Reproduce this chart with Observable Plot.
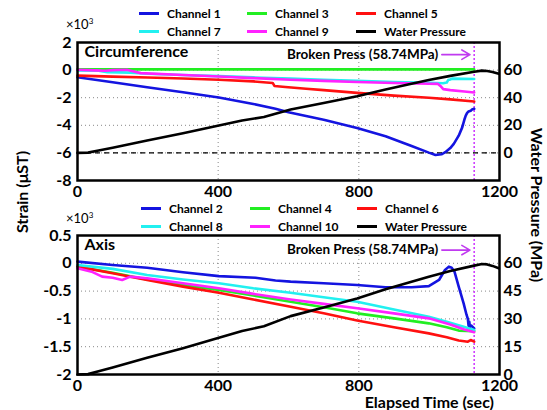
<!DOCTYPE html>
<html><head><meta charset="utf-8">
<script src="https://cdn.jsdelivr.net/npm/d3@7"></script>
<script src="https://cdn.jsdelivr.net/npm/@observablehq/plot@0.6"></script>
<style>
body{margin:0;background:#fff;font-family:Lato,"Open Sans",sans-serif;font-weight:bold;}
#wrap{position:relative;width:547px;height:410px;overflow:hidden;}
#wrap svg.p{position:absolute;left:0;}
.lab{position:absolute;white-space:nowrap;color:#000;line-height:1;}
.leg{position:absolute;font-size:12px;white-space:nowrap;display:flex;align-items:center;}
.leg span.sw{display:inline-block;width:20px;height:3px;margin-right:8px;}
</style></head>
<body><div id="wrap"></div>
<script>
// ---------- data ----------
const breakTime = 1128;            // sec, burst moment
const breakPressure = 58.74;       // MPa
const xTicks = [0, 400, 800, 1200];

// Water pressure (MPa) vs time (sec)
const waterPressure = [[0,0],[30,0.2],[60,1.7],[100,3.8],[198,9],[300,14.2],[402,19.8],[468,23.5],[530,26],[606,31.5],[700,36.2],[795,41],[876,46],[940,49.5],[999,52.8],[1060,55.8],[1128,58.74],[1150,59.6],[1165,59.4],[1180,58.6],[1198,57.3]];

// Circumference strains (x10^3 microstrain)
const ch1 = [[0,-0.52],[100,-0.88],[198,-1.24],[300,-1.6],[402,-1.98],[500,-2.45],[563,-2.8],[600,-3.05],[700,-3.6],[795,-4.2],[876,-4.8],[950,-5.5],[999,-5.98],[1018,-6.15],[1035,-6.1],[1046,-5.95],[1060,-5.65],[1070,-5.35],[1084,-4.75],[1094,-4.15],[1100,-3.6],[1104,-3.3],[1108,-3.1],[1112,-3.0],[1118,-2.95],[1122,-2.85],[1128,-2.8]];
const ch3 = [[0,0.05],[400,0.05],[800,0.05],[1128,0.05]];
const ch5 = [[0,-0.4],[100,-0.47],[200,-0.54],[300,-0.61],[402,-0.7],[500,-0.82],[555,-0.93],[560,-1.15],[591,-1.22],[650,-1.35],[700,-1.45],[795,-1.65],[900,-1.85],[999,-2.0],[1060,-2.12],[1128,-2.28]];
const ch7 = [[0,-0.02],[60,-0.05],[85,-0.15],[150,-0.18],[200,-0.26],[300,-0.35],[402,-0.44],[500,-0.53],[606,-0.62],[700,-0.7],[795,-0.78],[900,-0.86],[999,-0.92],[1040,-0.95],[1050,-0.9],[1054,-0.72],[1060,-0.68],[1065,-0.62],[1128,-0.64]];
const ch9 = [[0,0.02],[50,-0.02],[80,-0.05],[100,0.0],[140,0.02],[160,-0.1],[180,-0.22],[300,-0.35],[402,-0.46],[500,-0.58],[606,-0.7],[700,-0.78],[795,-0.86],[900,-0.93],[999,-0.99],[1025,-1.0],[1032,-1.15],[1040,-1.38],[1060,-1.45],[1100,-1.55],[1128,-1.62]];

// Axis strains (x10^3 microstrain)
const ch2 = [[0,0.03],[100,-0.03],[198,-0.08],[300,-0.16],[402,-0.23],[506,-0.26],[563,-0.31],[606,-0.33],[700,-0.36],[795,-0.39],[876,-0.43],[950,-0.43],[999,-0.41],[1028,-0.3],[1045,-0.12],[1056,-0.06],[1064,-0.08],[1072,-0.15],[1084,-0.42],[1098,-0.72],[1106,-0.92],[1110,-1.0],[1112,-1.12],[1114,-1.05],[1116,-1.15],[1120,-1.12],[1128,-1.17]];
const ch4 = [[0,-0.06],[100,-0.17],[198,-0.29],[300,-0.39],[402,-0.48],[500,-0.58],[606,-0.69],[700,-0.79],[795,-0.9],[900,-0.99],[999,-1.08],[1050,-1.15],[1084,-1.21],[1128,-1.22]];
const ch6 = [[0,-0.06],[100,-0.18],[198,-0.3],[300,-0.42],[402,-0.53],[500,-0.65],[606,-0.78],[700,-0.9],[795,-1.03],[900,-1.15],[999,-1.26],[1050,-1.33],[1084,-1.39],[1110,-1.41],[1118,-1.38],[1128,-1.41]];
const ch8 = [[0,-0.03],[100,-0.1],[198,-0.21],[300,-0.29],[402,-0.36],[500,-0.45],[606,-0.53],[700,-0.61],[795,-0.69],[900,-0.83],[999,-0.96],[1050,-1.05],[1103,-1.15],[1128,-1.2]];
const ch10 = [[0,-0.09],[40,-0.15],[70,-0.24],[100,-0.26],[127,-0.3],[150,-0.24],[198,-0.27],[300,-0.36],[402,-0.45],[500,-0.55],[606,-0.65],[700,-0.73],[795,-0.81],[900,-0.9],[999,-0.99],[1060,-1.1],[1100,-1.19],[1128,-1.24]];

const topStrainTicks = [2, 0, -2, -4, -6, -8];
const topPressureTicks = [0, 20, 40, 60];
const botStrainTicks = [0.5, 0, -0.5, -1, -1.5, -2];
const botPressureTicks = [0, 15, 30, 45, 60];

const topNames = ["Channel 1","Channel 3","Channel 5","Channel 7","Channel 9","Water Pressure"];
const botNames = ["Channel 2","Channel 4","Channel 6","Channel 8","Channel 10","Water Pressure"];
const colors = ["#1414e0","#22ee22","#ff1010","#22f0f0","#ff22ff","#000000"];

// ---------- drawing ----------
const FONT = "Lato, 'Open Sans', sans-serif";
const wrap = document.getElementById("wrap");

function panel(opt){
  const {series, yDomain, yTicks, pTicks, toY, title, top, height, mt, mb, zeroLine, annFrac} = opt;
  const toP = y => (y - toY(0)) / (toY(1) - toY(0));
  const annY = yDomain[1] - (yDomain[1]-yDomain[0]) * annFrac;
  const marks = [
    Plot.gridX([400, 800], {stroke:"#888", strokeOpacity:1, strokeDasharray:"1,3"}),
    Plot.gridY(yTicks.slice(1, -1), {stroke:"#888", strokeOpacity:1, strokeDasharray:"1,3"}),
  ];
  if (zeroLine) marks.push(Plot.ruleY([toY(0)], {stroke:"#000", strokeWidth:1.3, strokeDasharray:"5,4"}));
  marks.push(Plot.ruleX([breakTime], {stroke:"#cc33ff", strokeWidth:1.5, strokeDasharray:"2,2"}));
  series.forEach((s, i) => {
    marks.push(Plot.line(s, {x: d => d[0], y: d => d[1], stroke: colors[i], strokeWidth: 2.6}));
  });
  marks.push(Plot.line(waterPressure, {x: d => d[0], y: d => toY(d[1]), stroke:"#000", strokeWidth:2.6}));
  marks.push(Plot.frame({stroke:"#000", strokeWidth:2.5}));
  marks.push(Plot.axisX(xTicks, {tickSize:0, tickPadding:5, fontSize:16, fontWeight:"bold", tickFormat: d => String(d), label:null}));
  marks.push(Plot.axisY(yTicks, {tickSize:0, tickPadding:6, fontSize:16, fontWeight:"bold", tickFormat: d => String(d), label:null}));
  marks.push(Plot.axisY(pTicks.map(toY), {anchor:"right", tickSize:0, tickPadding:4, fontSize:16, fontWeight:"bold", tickFormat: d => String(Math.round(toP(d))), label:null}));
  marks.push(Plot.text([title], {frameAnchor:"top-left", dx:7, dy:3, fontSize:16, fontWeight:"bold", lineAnchor:"top"}));
  marks.push(Plot.text([`Broken Press (${breakPressure}MPa)`], {x: breakTime, y: annY, dx:-36, textAnchor:"end", fontSize:13.5, fontWeight:"bold"}));
  marks.push(Plot.arrow([0], {x1: breakTime - 92, x2: breakTime - 12, y1: annY, y2: annY, stroke:"#c03af0", strokeWidth:1.6, headLength:9}));
  const svg = Plot.plot({
    width: 547, height, marginLeft: 77, marginRight: 48, marginTop: mt, marginBottom: mb,
    x: {domain: [0, 1200]}, y: {domain: yDomain},
    style: {fontFamily: FONT, fontWeight: "bold", background: "transparent", overflow: "visible"},
    marks
  });
  svg.classList.add("p");
  svg.style.top = top + "px";
  wrap.appendChild(svg);
}

panel({series:[ch1, ch3, ch5, ch7, ch9], yDomain:[-8, 2], yTicks: topStrainTicks, pTicks: topPressureTicks,
  toY: p => -6 + p/10, title:"Circumference", top:0, height:200, mt:42, mb:20, zeroLine:true, annFrac:0.088});
panel({series:[ch2, ch4, ch6, ch8, ch10], yDomain:[-2, 0.5], yTicks: botStrainTicks, pTicks: botPressureTicks,
  toY: p => -2 + p/30, title:"Axis", top:195, height:215, mt:40, mb:36, zeroLine:false, annFrac:0.105});

// legends
function legend(names, cols, rows){
  names.forEach((n, i) => {
    const d = document.createElement("div");
    d.className = "leg";
    d.style.left = cols[i % 3] + "px";
    d.style.top = (rows[Math.floor(i / 3)] - 8) + "px";
    d.innerHTML = `<span class="sw" style="background:${colors[i]}"></span>${n}`;
    wrap.appendChild(d);
  });
}
legend(topNames, [139, 247, 356], [14, 32]);
legend(botNames, [141, 250, 357], [209, 227]);

function label(html, css){
  const d = document.createElement("div");
  d.className = "lab";
  d.innerHTML = html;
  Object.assign(d.style, css);
  wrap.appendChild(d);
  return d;
}
label("×10<sup style='font-size:8px'>3</sup>", {left:"66px", top:"17px", fontSize:"13px", fontWeight:"normal"});
label("×10<sup style='font-size:8px'>3</sup>", {left:"66px", top:"211px", fontSize:"13px", fontWeight:"normal"});
label("Strain (μST)", {left:"22px", top:"192px", fontSize:"16px", transform:"translate(-50%,-50%) rotate(-90deg)"});
label("Water Pressure (MPa)", {left:"537px", top:"205px", fontSize:"16px", transform:"translate(-50%,-50%) rotate(90deg)"});
label("Elapsed Time (sec)", {right:"53px", top:"394px", fontSize:"16px"});
</script></body></html>
